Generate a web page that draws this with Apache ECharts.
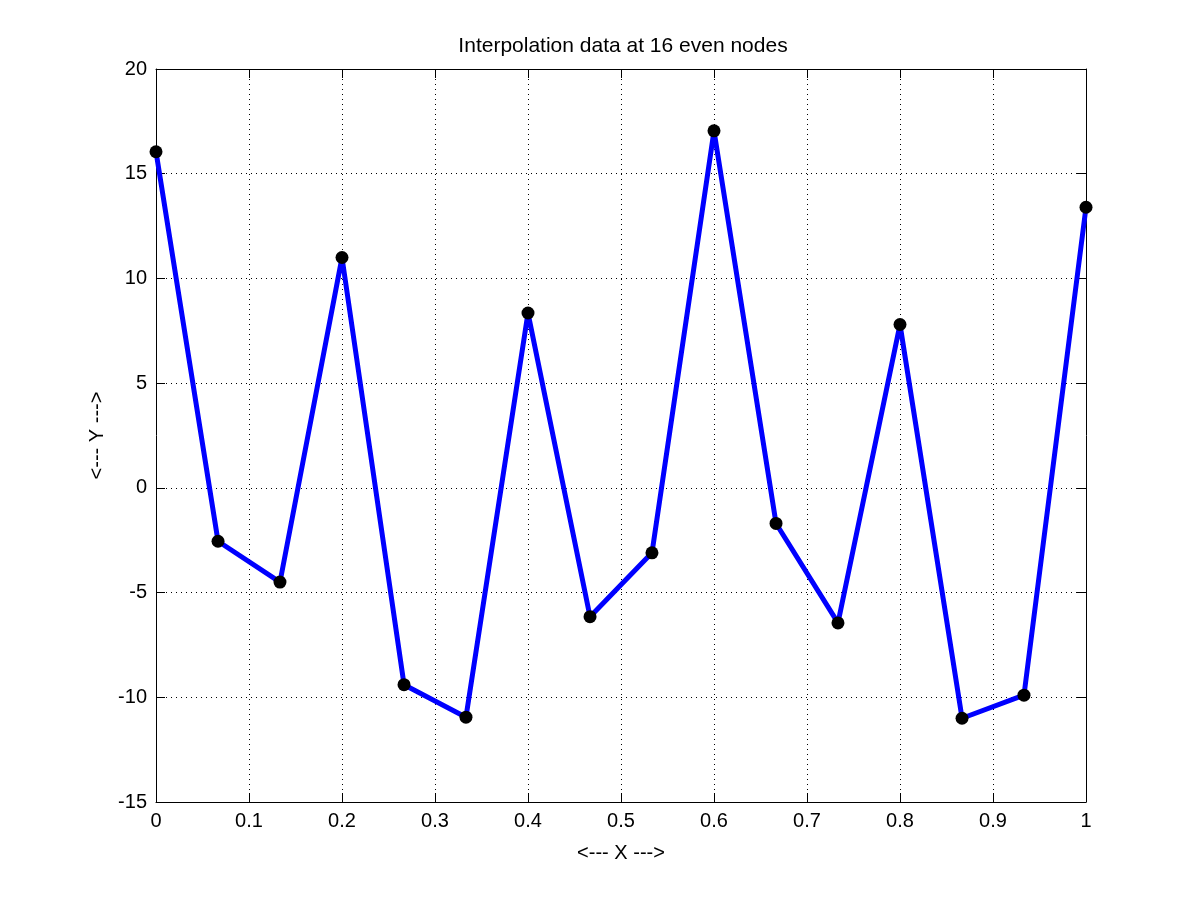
<!DOCTYPE html>
<html>
<head>
<meta charset="utf-8">
<script src="https://cdn.jsdelivr.net/npm/echarts@6/dist/echarts.min.js"></script>
<style>
  html, body { margin: 0; padding: 0; background: #fff; }
  #box { width: 1200px; height: 901px; }
</style>
</head>
<body>
<div id="box"></div>
<script>
// 16 even nodes on [0, 1]
const nodesX = [0, 0.0667, 0.1333, 0.2, 0.2667, 0.3333, 0.4, 0.4667,
                0.5333, 0.6, 0.6667, 0.7333, 0.8, 0.8667, 0.9333, 1];
const nodesY = [16.05, -2.55, -4.5, 11.0, -9.4, -10.95, 8.35, -6.15,
                -3.1, 17.05, -1.7, -6.45, 7.8, -11.0, -9.9, 13.4];

const chart = echarts.init(document.getElementById('box'));
const font = 'Liberation Sans, Arial, sans-serif';

const pts = nodesX.map((x, i) => [x, nodesY[i]]);

const baseAxis = {
  axisLine: { show: true, onZero: false, lineStyle: { color: '#000', width: 1 } },
  axisTick: { show: true, inside: true, length: 9, lineStyle: { color: '#000' } },
  axisLabel: { color: '#000', fontSize: 20, fontFamily: font, margin: 9 }
};

chart.setOption({
  animation: false,
  backgroundColor: '#fff',
  title: {
    text: 'Interpolation data at 16 even nodes',
    left: 618, top: 31, textAlign: 'center',
    textStyle: { fontSize: 21, fontWeight: 'normal', color: '#000', fontFamily: font }
  },
  grid: { left: 156, right: 114, top: 69, bottom: 99, containLabel: false },
  xAxis: [
    Object.assign({}, baseAxis, {
      type: 'value', min: 0, max: 1, interval: 0.1, position: 'bottom',
      name: '<--- X --->', nameLocation: 'middle', nameGap: 41,
      nameTextStyle: { fontSize: 20, color: '#000', fontFamily: font },
      splitLine: { show: true, lineStyle: { color: '#000', type: [1, 4], width: 1 } },
      axisLabel: Object.assign({}, baseAxis.axisLabel, {
        formatter: v => String(Math.round(v * 10) / 10)
      })
    }),
    Object.assign({}, baseAxis, {
      type: 'value', min: 0, max: 1, interval: 0.1, position: 'top',
      axisLabel: { show: false }, splitLine: { show: false }
    })
  ],
  yAxis: [
    Object.assign({}, baseAxis, {
      type: 'value', min: -15, max: 20, interval: 5, position: 'left',
      name: '<--- Y --->', nameLocation: 'middle', nameGap: 47, nameRotate: 90,
      nameTextStyle: { fontSize: 20, color: '#000', fontFamily: font },
      splitLine: { show: true, lineStyle: { color: '#000', type: [1, 4], width: 1 } }
    }),
    Object.assign({}, baseAxis, {
      type: 'value', min: -15, max: 20, interval: 5, position: 'right',
      axisLabel: { show: false }, splitLine: { show: false }
    })
  ],
  series: [
    {
      type: 'line',
      data: pts,
      symbol: 'circle',
      symbolSize: 13,
      lineStyle: { color: '#0000ff', width: 5 },
      itemStyle: { color: '#000', borderWidth: 0 },
      z: 3
    }
  ]
});
</script>
</body>
</html>
